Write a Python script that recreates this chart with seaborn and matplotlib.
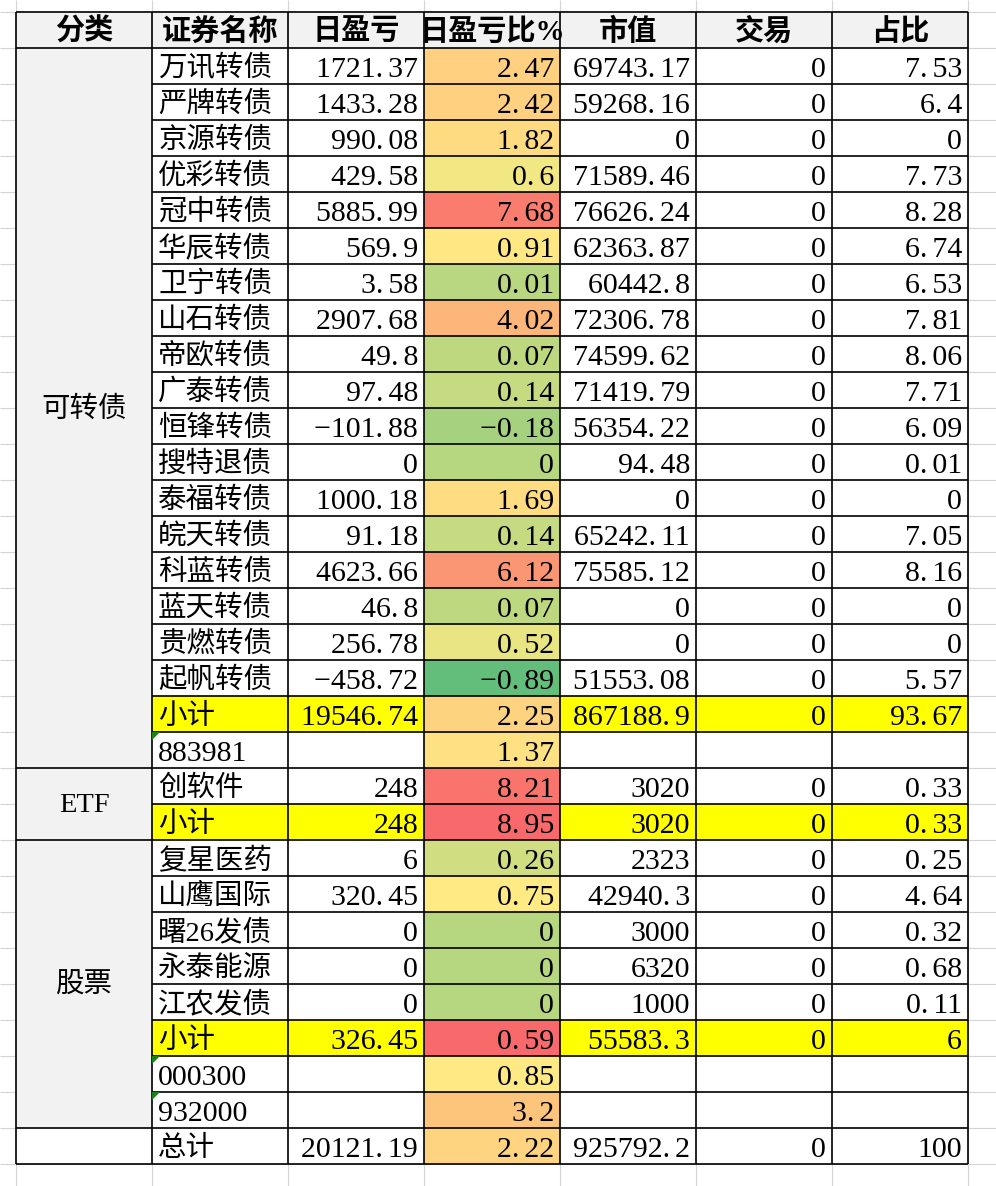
import numpy as np
import seaborn as sns
import matplotlib.pyplot as plt
from matplotlib.colors import ListedColormap, LinearSegmentedColormap, TwoSlopeNorm, to_hex

# table data
headers = ["分类", "证券名称", "日盈亏", "日盈亏比%", "市值", "交易", "占比"]
categories = ["可转债", "ETF", "股票", ""]
category_rows = [20, 2, 8, 1]

names = ["万讯转债", "严牌转债", "京源转债", "优彩转债", "冠中转债", "华辰转债", "卫宁转债",
         "山石转债", "帝欧转债", "广泰转债", "恒锋转债", "搜特退债", "泰福转债", "皖天转债",
         "科蓝转债", "蓝天转债", "贵燃转债", "起帆转债", "小计", "883981",
         "创软件", "小计",
         "复星医药", "山鹰国际", "曙26发债", "永泰能源", "江农发债", "小计", "000300", "932000",
         "总计"]
daily_pnl = [1721.37, 1433.28, 990.08, 429.58, 5885.99, 569.9, 3.58, 2907.68, 49.8, 97.48,
             -101.88, 0, 1000.18, 91.18, 4623.66, 46.8, 256.78, -458.72, 19546.74, None,
             248, 248,
             6, 320.45, 0, 0, 0, 326.45, None, None,
             20121.19]
pnl_pct = [2.47, 2.42, 1.82, 0.6, 7.68, 0.91, 0.01, 4.02, 0.07, 0.14,
           -0.18, 0, 1.69, 0.14, 6.12, 0.07, 0.52, -0.89, 2.25, 1.37,
           8.21, 8.95,
           0.26, 0.75, 0, 0, 0, 0.59, 0.85, 3.2,
           2.22]
market_value = [69743.17, 59268.16, 0, 71589.46, 76626.24, 62363.87, 60442.8, 72306.78, 74599.62, 71419.79,
                56354.22, 94.48, 0, 65242.11, 75585.12, 0, 0, 51553.08, 867188.9, None,
                3020, 3020,
                2323, 42940.3, 3000, 6320, 1000, 55583.3, None, None,
                925792.2]
trade = [0] * 19 + [None] + [0, 0] + [0] * 6 + [None, None] + [0]
share = [7.53, 6.4, 0, 7.73, 8.28, 6.74, 6.53, 7.81, 8.06, 7.71,
         6.09, 0.01, 0, 7.05, 8.16, 0, 0, 5.57, 93.67, None,
         0.33, 0.33,
         0.25, 4.64, 0.32, 0.68, 0.11, 6, None, None,
         100]

subtotal_rows = [i for i, n in enumerate(names) if n == "小计"]
code_rows = [i for i, n in enumerate(names) if n.isdigit()]

# styling
GRAY = "#F2F2F2"
YELLOW = "#FFFF00"
WHITE = "#FFFFFF"
pct_fill_override = {27: "#F8696B"}
scale_cmap = LinearSegmentedColormap.from_list("excel3", ["#63BE7B", "#FFEB84", "#F8696B"])
scale_norm = TwoSlopeNorm(vmin=min(pnl_pct), vcenter=float(np.median(pnl_pct)), vmax=max(pnl_pct))

LEFT, TOP, COL_W, ROW_H = 16, 12, 136, 36
W, H = 996, 1186
n_rows = len(names) + 1
n_cols = len(headers)


def fmt(v):
    if v is None:
        return ""
    if float(v).is_integer():
        s = str(int(v))
    else:
        s = str(v)
    # spreadsheet font gives the dot a wider slot
    return s.replace("-", "\u2212").replace(".", ".\u2006")


# fill colours per cell
fills = [[WHITE] * n_cols for _ in range(n_rows)]
fills[0] = [GRAY] * n_cols
for i in range(len(names)):
    r = i + 1
    if r < n_rows - 1:
        fills[r][0] = GRAY
    if i in subtotal_rows:
        for c in range(1, n_cols):
            fills[r][c] = YELLOW
    fills[r][3] = pct_fill_override.get(i, to_hex(scale_cmap(scale_norm(pnl_pct[i]))))

palette = sorted({c for row in fills for c in row})
idx = np.array([[palette.index(c) for c in row] for row in fills])

fig = plt.figure(figsize=(W / 100, H / 100), dpi=100)
ax = fig.add_axes([0, 0, 1, 1])
sns.heatmap(idx, cmap=ListedColormap(palette), vmin=-0.5, vmax=len(palette) - 0.5,
            cbar=False, ax=ax, xticklabels=False, yticklabels=False)
plt.rcParams['font.family'] = ['Liberation Serif', 'Noto Sans CJK SC']

x_lo, x_hi = -LEFT / COL_W, (W - LEFT) / COL_W
y_lo, y_hi = -TOP / ROW_H, (H - TOP) / ROW_H
ax.set_xlim(x_lo, x_hi)
ax.set_ylim(y_hi, y_lo)
ax.axis("off")

# spreadsheet background grid
ax.vlines(range(n_cols + 1), y_lo, y_hi, color="#D4D4D4", lw=0.8, zorder=0.5)
ax.hlines(range(n_rows + 1), x_lo, x_hi, color="#D4D4D4", lw=0.8, zorder=0.5)

# table borders
ax.vlines(range(n_cols + 1), 0, n_rows, color="black", lw=1.2, zorder=3)
ax.hlines(range(n_rows + 1), 1, n_cols, color="black", lw=1.2, zorder=3)
group_edges = [0, 1] + list(1 + np.cumsum(category_rows))
ax.hlines(group_edges, 0, 1, color="black", lw=1.2, zorder=3)

pad_x = 6 / COL_W
for c, h in enumerate(headers):
    ax.text(c + 0.5, 0.55, h, ha="center", va="center", fontsize=21, fontweight="bold", zorder=4)

start = 1
for cat, n in zip(categories, category_rows):
    ax.text(0.5, start + n / 2 + 0.05, cat, ha="center", va="center", fontsize=20.5, zorder=4)
    start += n

columns = [daily_pnl, pnl_pct, market_value, trade, share]
for i, name in enumerate(names):
    r = i + 1
    if i in code_rows:
        ax.text(1 + pad_x, r + 0.6, name, ha="left", va="center", fontsize=21.5, zorder=4)
    else:
        ax.text(1 + pad_x, r + 0.57, name, ha="left", va="center", fontsize=20.5, zorder=4)
    for c, col in enumerate(columns, start=2):
        ax.text(c + 1 - pad_x, r + 0.6, fmt(col[i]), ha="right", va="center", fontsize=21.5, zorder=4)

# "number stored as text" markers
for i in code_rows:
    r = i + 1
    ax.fill([1, 1 + 8 / COL_W, 1], [r, r, r + 8 / ROW_H], color="#1A7F1A", lw=0, zorder=3.5)

fig.savefig("out.png", dpi=100)
